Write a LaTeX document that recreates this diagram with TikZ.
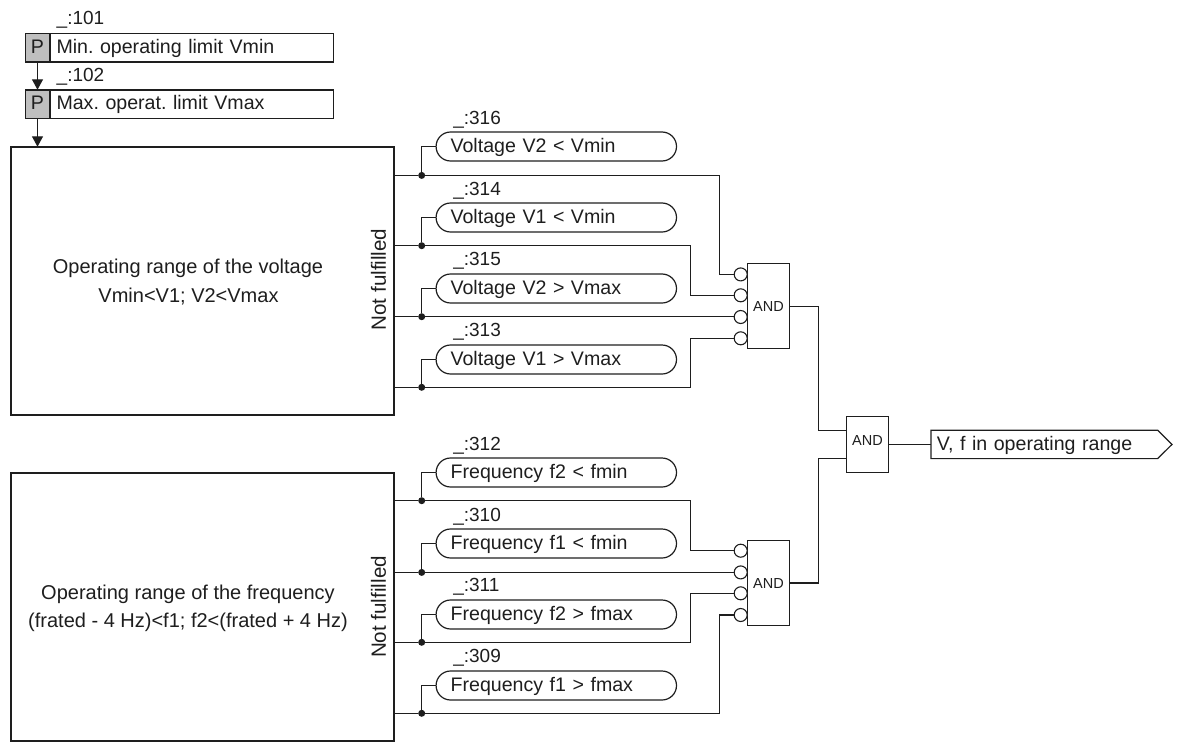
\documentclass[tikz,border=0pt]{standalone}
\usepackage{fontspec}
\setmainfont{Liberation Sans}
\frenchspacing
\usetikzlibrary{arrows.meta,shapes.misc,shapes.symbols,calc}
\definecolor{ink}{HTML}{1E1E1E}
\tikzset{
  base/.style={inner sep=0pt,outer sep=0pt,text=ink,font=\fontsize{19.6}{22}\selectfont},
  boxed/.style={base,text height=15pt,text depth=3.2pt},
  pcell/.style={boxed,draw=ink,line width=1.5pt,fill=black!25,minimum width=24.5pt,minimum height=28.5pt},
  lcell/.style={boxed,draw=ink,line width=1.5pt,fill=white,minimum width=283.5pt,minimum height=28.5pt,text width=270pt,align=left},
  tag/.style={base,anchor=base west,font=\fontsize{19}{22}\selectfont},
  bigbox/.style={base,draw=ink,line width=1.6pt,minimum width=383pt,minimum height=268.5pt},
  rangetext/.style={base,anchor=base,font=\fontsize{20}{22}\selectfont},
  term/.style={boxed,draw=ink,line width=1.2pt,rounded rectangle,minimum height=29pt,text width=234pt,align=left},
  gate/.style={base,draw=ink,line width=1.2pt,fill=white,font=\fontsize{14.5}{18}\selectfont,minimum width=42.5pt,text height=15pt,text depth=3.2pt},
  neg/.style={circle,draw=ink,line width=1.1pt,fill=white,minimum size=13pt,inner sep=0pt,outer sep=0pt},
  junction/.style={circle,fill=ink,minimum size=7pt,inner sep=0pt,outer sep=0pt},
  wire/.style={draw=ink,line width=1.3pt},
  flow/.style={draw=ink,line width=1.4pt,-{Triangle[width=11pt,length=10.5pt]}},
  side/.style={base,rotate=90,font=\fontsize{20.6}{22}\selectfont},
  outshape/.style={boxed,draw=ink,line width=1.2pt,signal,signal to=east,signal pointer angle=89.4,minimum height=28.4pt,minimum width=241pt,text width=215pt,align=left}
}
\newcommand{\tin}{\hspace*{11.3pt}}
\begin{document}
\begin{tikzpicture}[x=1pt,y=-1pt]
\useasboundingbox (0,0) rectangle (1179,747);
% parameters
\node[tag] (t101) at (56.7,24) {\_:101};
\node[pcell] (p1) at (37.5,47.5) {P};
\node[lcell] (l1) at (191.5,47.5) {Min. operating limit Vmin};
\node[tag] (t102) at (56.7,81.3) {\_:102};
\node[pcell] (p2) at (37.5,104) {P};
\node[lcell] (l2) at (191.5,104) {Max. operat. limit Vmax};
% big boxes
\node[bigbox] (vbox) at (202.5,281) {};
\node[rangetext] (vt1) at (188,273) {Operating range of the voltage};
\node[rangetext] (vt2) at (188.5,302) {Vmin<V1; V2<Vmax};
\node[side] (vnf) at (378.5,279.5) {Not fulfilled};
\node[bigbox] (fbox) at (202.5,607) {};
\node[rangetext] (ft1) at (188,599.5) {Operating range of the frequency};
\node[rangetext] (ft2) at (188,627.5) {(frated - 4 Hz)<f1; f2<(frated + 4 Hz)};
\node[side] (fnf) at (378.5,607) {Not fulfilled};
\draw[flow] (p1.south) -- (p2.north);
\draw[flow] (p2.south) -- (p2.south |- vbox.north);
% terminators, voltage
\node[tag] (t316) at (453.3,124) {\_:316};
\node[term] (a1) at (556.3,146.5) {\tin Voltage V2 < Vmin};
\node[tag] (t314) at (453.3,195) {\_:314};
\node[term] (a2) at (556.3,217.5) {\tin Voltage V1 < Vmin};
\node[tag] (t315) at (453.3,265.7) {\_:315};
\node[term] (a3) at (556.3,288.5) {\tin Voltage V2 > Vmax};
\node[tag] (t313) at (453.3,336.7) {\_:313};
\node[term] (a4) at (556.3,359.5) {\tin Voltage V1 > Vmax};
% terminators, frequency
\node[tag] (t312) at (453.3,450) {\_:312};
\node[term] (b1) at (556.3,472.5) {\tin Frequency f2 < fmin};
\node[tag] (t310) at (453.3,521) {\_:310};
\node[term] (b2) at (556.3,543.5) {\tin Frequency f1 < fmin};
\node[tag] (t311) at (453.3,591.7) {\_:311};
\node[term] (b3) at (556.3,614.5) {\tin Frequency f2 > fmax};
\node[tag] (t309) at (453.3,662.3) {\_:309};
\node[term] (b4) at (556.3,685.5) {\tin Frequency f1 > fmax};
% gates
\node[gate,minimum height=85pt] (g1) at (768.5,306) {AND};
\node[gate,minimum height=85pt] (g2) at (768.5,582.9) {AND};
\node[gate,minimum height=56.6pt,text height=10.4pt,text depth=8pt] (g3) at (867.5,444.4) {AND};
\node[neg] (c1) at (740.7,274.4) {};
\node[neg] (c2) at (740.7,295.3) {};
\node[neg] (c3) at (740.7,317) {};
\node[neg] (c4) at (740.7,338.3) {};
\node[neg] (e1) at (740.7,550.7) {};
\node[neg] (e2) at (740.7,572.4) {};
\node[neg] (e3) at (740.7,593.3) {};
\node[neg] (e4) at (740.7,615) {};
% junctions
\node[junction] (ja1) at (421.7,175.4) {};
\node[junction] (ja2) at (421.7,245.7) {};
\node[junction] (ja3) at (421.7,316.7) {};
\node[junction] (ja4) at (421.7,387.3) {};
\node[junction] (jb1) at (421.7,500.7) {};
\node[junction] (jb2) at (421.7,572.4) {};
\node[junction] (jb3) at (421.7,642.3) {};
\node[junction] (jb4) at (421.7,713.3) {};
% bends
\coordinate (k1) at (719.3,175.4);
\coordinate (k2) at (690.7,245.7);
\coordinate (k4) at (690.7,387.3);
\coordinate (m1) at (690.7,500.7);
\coordinate (m3) at (690.7,642.3);
\coordinate (m4) at (719.3,713.3);
\coordinate (col) at (818.4,444);
% wires
\draw[wire] (ja1) |- (a1.west);
\draw[wire] (ja2) |- (a2.west);
\draw[wire] (ja3) |- (a3.west);
\draw[wire] (ja4) |- (a4.west);
\draw[wire] (jb1) |- (b1.west);
\draw[wire] (jb2) |- (b2.west);
\draw[wire] (jb3) |- (b3.west);
\draw[wire] (jb4) |- (b4.west);
\draw[wire] (vbox.east |- ja1) -- (ja1) -- (k1) |- (c1.west);
\draw[wire] (vbox.east |- ja2) -- (ja2) -- (k2) |- (c2.west);
\draw[wire] (vbox.east |- ja3) -- (ja3) -- (c3.west |- ja3);
\draw[wire] (vbox.east |- ja4) -- (ja4) -- (k4) |- (c4.west);
\draw[wire] (fbox.east |- jb1) -- (jb1) -- (m1) |- (e1.west);
\draw[wire] (fbox.east |- jb2) -- (jb2) -- (e2.west);
\draw[wire] (fbox.east |- jb3) -- (jb3) -- (m3) |- (e3.west);
\draw[wire] (fbox.east |- jb4) -- (jb4) -- (m4) |- (e4.west);
\draw[wire] (g1.east) ++(0,0.4) -| (col |- g3.north) |- ($(g3.west)+(0,-14.2)$);
\draw[wire] (g2.east) -| (col |- g3.south) |- ($(g3.west)+(0,14.2)$);
% output
\node[outshape,anchor=west] (out) at (931,444.4) {V, f in operating range};
\draw[wire] (g3.east) -- (out.west);
\end{tikzpicture}
\end{document}
